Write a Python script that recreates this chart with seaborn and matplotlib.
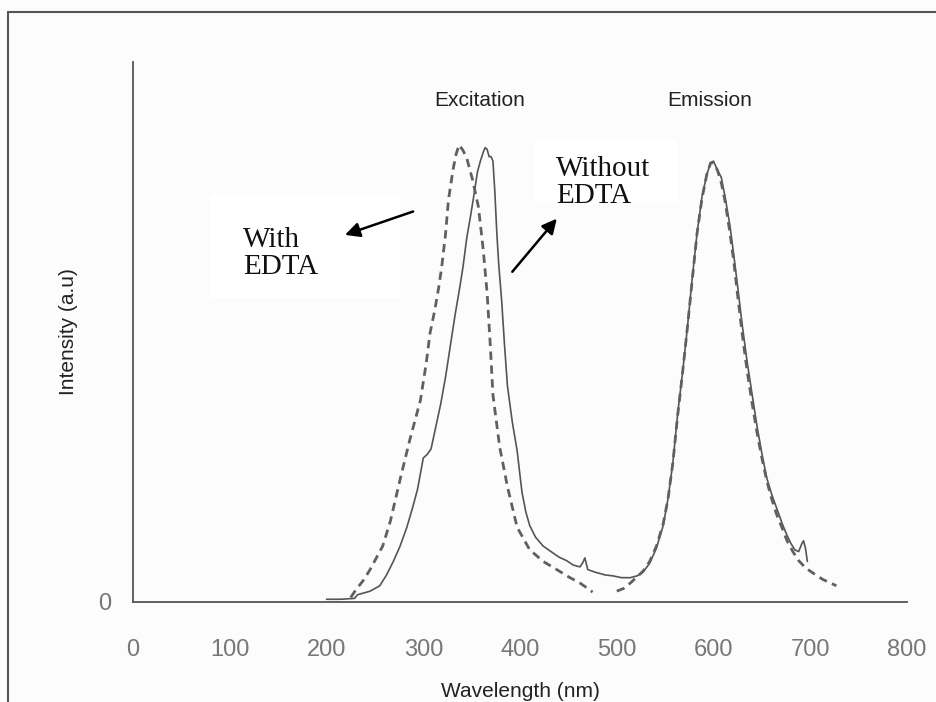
import matplotlib
matplotlib.use('Agg')
import matplotlib.pyplot as plt
import seaborn as sns
import pandas as pd
from matplotlib.patches import Rectangle
from matplotlib.lines import Line2D

sns.set_style('white')
plt.rcParams['font.family'] = ['Liberation Sans', 'DejaVu Sans']

# without EDTA (solid), excitation + emission
wl_without = [200, 215, 229, 232, 245, 255, 262, 269, 276, 283, 289, 294, 300, 304, 308,
              313, 318, 323, 328, 333, 337, 341, 345, 349, 352, 356, 359, 362, 364, 366,
              368, 370, 372, 374, 376, 378, 381, 384, 387, 392, 397, 402, 406, 410, 416,
              424, 432, 440, 448, 455, 462, 465, 467, 470, 478, 488, 496, 505, 514, 521,
              527, 534, 541, 548, 553, 558, 563, 568, 573, 578, 583, 588, 593, 597, 600,
              604, 608, 612, 617, 621, 625, 630, 635, 640, 645, 650, 655, 660, 665, 671,
              676, 680, 684, 688, 691, 693, 695, 697]
int_without = [0.03, 0.03, 0.04, 0.08, 0.12, 0.18, 0.30, 0.45, 0.62, 0.83, 1.05, 1.25, 1.60, 1.64, 1.70,
               1.95, 2.20, 2.50, 2.85, 3.20, 3.45, 3.72, 4.05, 4.30, 4.50, 4.78, 4.90, 5.00, 5.05, 5.03,
               4.95, 4.95, 4.90, 4.55, 4.10, 3.75, 3.35, 2.85, 2.40, 2.00, 1.68, 1.22, 1.00, 0.85, 0.72,
               0.62, 0.56, 0.50, 0.46, 0.41, 0.39, 0.44, 0.49, 0.36, 0.33, 0.30, 0.29, 0.27, 0.27, 0.29,
               0.33, 0.43, 0.60, 0.85, 1.15, 1.55, 2.10, 2.55, 3.05, 3.60, 4.10, 4.50, 4.75, 4.88, 4.90,
               4.80, 4.72, 4.50, 4.18, 3.85, 3.50, 3.05, 2.65, 2.30, 1.95, 1.65, 1.38, 1.20, 1.05, 0.87,
               0.74, 0.65, 0.58, 0.56, 0.64, 0.68, 0.60, 0.45]

# with EDTA (dashed), excitation part
wl_with_ex = [225, 230, 238, 245, 252, 258, 266, 276, 286, 297, 303, 307, 312, 316, 319,
              323, 326, 331, 334, 337, 341, 345, 351, 357, 362, 366, 369, 372, 379, 387,
              397, 410, 424, 438, 450, 462, 470, 475]
int_with_ex = [0.05, 0.13, 0.24, 0.36, 0.50, 0.62, 0.90, 1.36, 1.80, 2.24, 2.65, 2.99, 3.25, 3.50, 3.72,
               4.09, 4.47, 4.82, 4.98, 5.08, 5.02, 4.93, 4.69, 4.39, 3.91, 3.43, 2.90, 2.30, 1.72, 1.28,
               0.83, 0.58, 0.45, 0.36, 0.28, 0.21, 0.15, 0.11]

# with EDTA (dashed), emission part
wl_with_em = [500, 507, 514, 521, 527, 534, 541, 548, 553, 558, 563, 568, 573, 578, 583,
              588, 593, 597, 600, 604, 608, 612, 617, 621, 625, 630, 635, 640, 645, 650,
              655, 660, 665, 671, 676, 682, 688, 695, 703, 713, 727]
int_with_em = [0.12, 0.15, 0.21, 0.28, 0.34, 0.45, 0.62, 0.87, 1.15, 1.55, 2.08, 2.55, 3.05, 3.58, 4.10,
               4.48, 4.75, 4.88, 4.88, 4.80, 4.66, 4.45, 4.10, 3.78, 3.40, 2.95, 2.55, 2.20, 1.88, 1.60,
               1.35, 1.15, 0.98, 0.82, 0.68, 0.56, 0.46, 0.38, 0.32, 0.25, 0.18]

xticks = [0, 100, 200, 300, 400, 500, 600, 700, 800]
yticks = [0, 1, 2, 3, 4, 5, 6]

df_without = pd.DataFrame({'wl': wl_without, 'I': int_without})
df_ex = pd.DataFrame({'wl': wl_with_ex, 'I': int_with_ex})
df_em = pd.DataFrame({'wl': wl_with_em, 'I': int_with_em})

fig = plt.figure(figsize=(9.37, 7.02), dpi=100, facecolor='#fcfcfc')
ax = fig.add_axes([0.142, 0.1425, 0.826, 0.769])
ax.set_facecolor('#fcfcfc')

sns.lineplot(data=df_without, x='wl', y='I', ax=ax, color='#555555', linewidth=1.2)
for d in (df_ex, df_em):
    sns.lineplot(data=d, x='wl', y='I', ax=ax, color='#606060', linewidth=2,
                 linestyle=(0, (3, 2)))

ax.set_xlim(0, 800)
ax.set_ylim(0, 6)
ax.set_xticks(xticks)
ax.set_xticklabels([str(t) for t in xticks])
ax.set_yticks(yticks)
ax.set_yticklabels(['0'] + [''] * (len(yticks) - 1))

for s in ('top', 'right'):
    ax.spines[s].set_visible(False)
for s in ('left', 'bottom'):
    ax.spines[s].set_color('#555555')
    ax.spines[s].set_linewidth(1.3)

ax.tick_params(axis='x', direction='out', length=10, width=1.2, color='#555555',
               pad=17, labelsize=17, labelcolor='#777777')
ax.tick_params(axis='y', direction='out', length=5, width=1.2, color='#555555',
               pad=11, labelsize=17, labelcolor='#777777')
for lab in ax.get_xticklabels() + ax.get_yticklabels():
    lab.set_family(['Liberation Sans Narrow', 'Liberation Sans', 'DejaVu Sans'])

ax.set_xlabel('Wavelength (nm)', fontsize=15, color='#222222', labelpad=15)
ax.set_ylabel('Intensity (a.u)', fontsize=15, color='#222222', labelpad=14)

ax.text(358, 5.57, 'Excitation', fontsize=15, color='#222222', ha='center', va='center')
ax.text(596, 5.57, 'Emission', fontsize=15, color='#222222', ha='center', va='center')

# white label boxes
serif = ['Liberation Serif', 'DejaVu Serif']
box1 = Rectangle((80, 3.38), 196, 1.14, facecolor='white', edgecolor='none', zorder=1)
ax.add_patch(box1)
ax.text(114, 3.87, 'With\nEDTA', fontsize=21, family=serif,
        color='#111111', ha='left', va='center', linespacing=1.05, zorder=3)

box2 = Rectangle((415, 4.43), 147, 0.70, facecolor='white', edgecolor='none', zorder=1)
ax.add_patch(box2)
t2 = ax.text(437, 4.66, 'Without\nEDTA', fontsize=21, family=serif,
             color='#111111', ha='left', va='center', linespacing=1.05, zorder=3)
t2.set_clip_path(box2)

arrow = dict(arrowstyle='-|>', color='black', lw=1.8, mutation_scale=22, shrinkA=0, shrinkB=0)
ax.annotate('', xy=(219, 4.08), xytext=(289.5, 4.34), arrowprops=arrow)
ax.annotate('', xy=(438, 4.26), xytext=(392, 3.67), arrowprops=arrow)

# outer frame of the original figure
fig.add_artist(Line2D([0.0085, 0.0085], [0.0, 0.983], transform=fig.transFigure,
                      color='#555555', lw=1.5))
fig.add_artist(Line2D([0.0085, 1.0], [0.983, 0.983], transform=fig.transFigure,
                      color='#555555', lw=1.5))

fig.savefig('out.png', dpi=100, facecolor=fig.get_facecolor())
